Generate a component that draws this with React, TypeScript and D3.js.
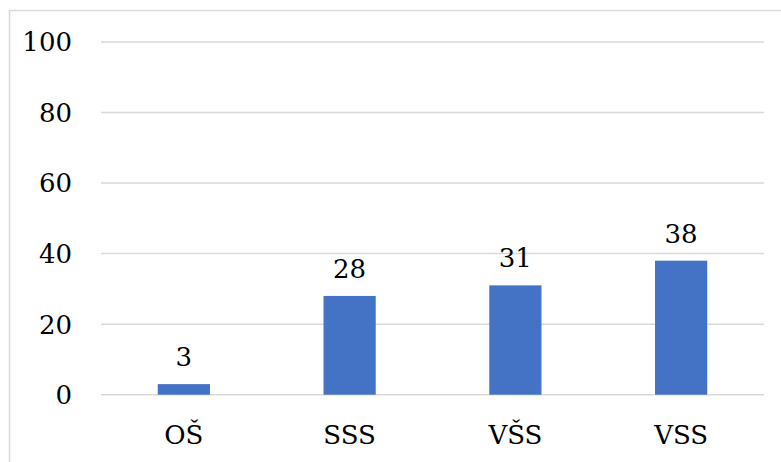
import React from "react";
import * as d3 from "d3";

const categories = ["OŠ", "SSS", "VŠS", "VSS"];
const values = [3, 28, 31, 38];
const yTicks = [0, 20, 40, 60, 80, 100];

export default function App() {
  const W = 781, H = 462;
  const x = d3.scaleBand().domain(categories).range([101, 764]).paddingInner(0).paddingOuter(0);
  const y = d3.scaleLinear().domain([0, 100]).range([394.7, 42]);
  const bw = x.bandwidth() * 0.315;
  const ts: React.CSSProperties = {
    fontFamily: "'DejaVu Serif'",
    fontSize: "26px",
  };
  return (
    <svg width={W} height={H} style={{ position: "absolute", left: 0, top: 0, background: "#fff" }}>
      <rect x={9.5} y={10.5} width={W + 10} height={H + 10} fill="#fff" stroke="#d9d9d9" strokeWidth={1.5} />
      {yTicks.map((t) => (
        <g key={t}>
          <line x1={101} x2={764} y1={y(t)} y2={y(t)} stroke="#d9d9d9" strokeWidth={1.5} />
          <text x={72} y={y(t)} dy="0.36em" textAnchor="end" style={ts} fill="#000">
            {t}
          </text>
        </g>
      ))}
      {categories.map((c, i) => {
        const cx = (x(c) as number) + x.bandwidth() / 2;
        return (
          <g key={c}>
            <rect x={cx - bw / 2} y={y(values[i])} width={bw} height={y(0) - y(values[i])} fill="#4472c4" />
            <text x={cx} y={y(values[i]) - 18} textAnchor="middle" style={ts} fill="#000">
              {values[i]}
            </text>
            <text x={cx} y={444} textAnchor="middle" style={ts} fill="#000">
              {c}
            </text>
          </g>
        );
      })}
    </svg>
  );
}
